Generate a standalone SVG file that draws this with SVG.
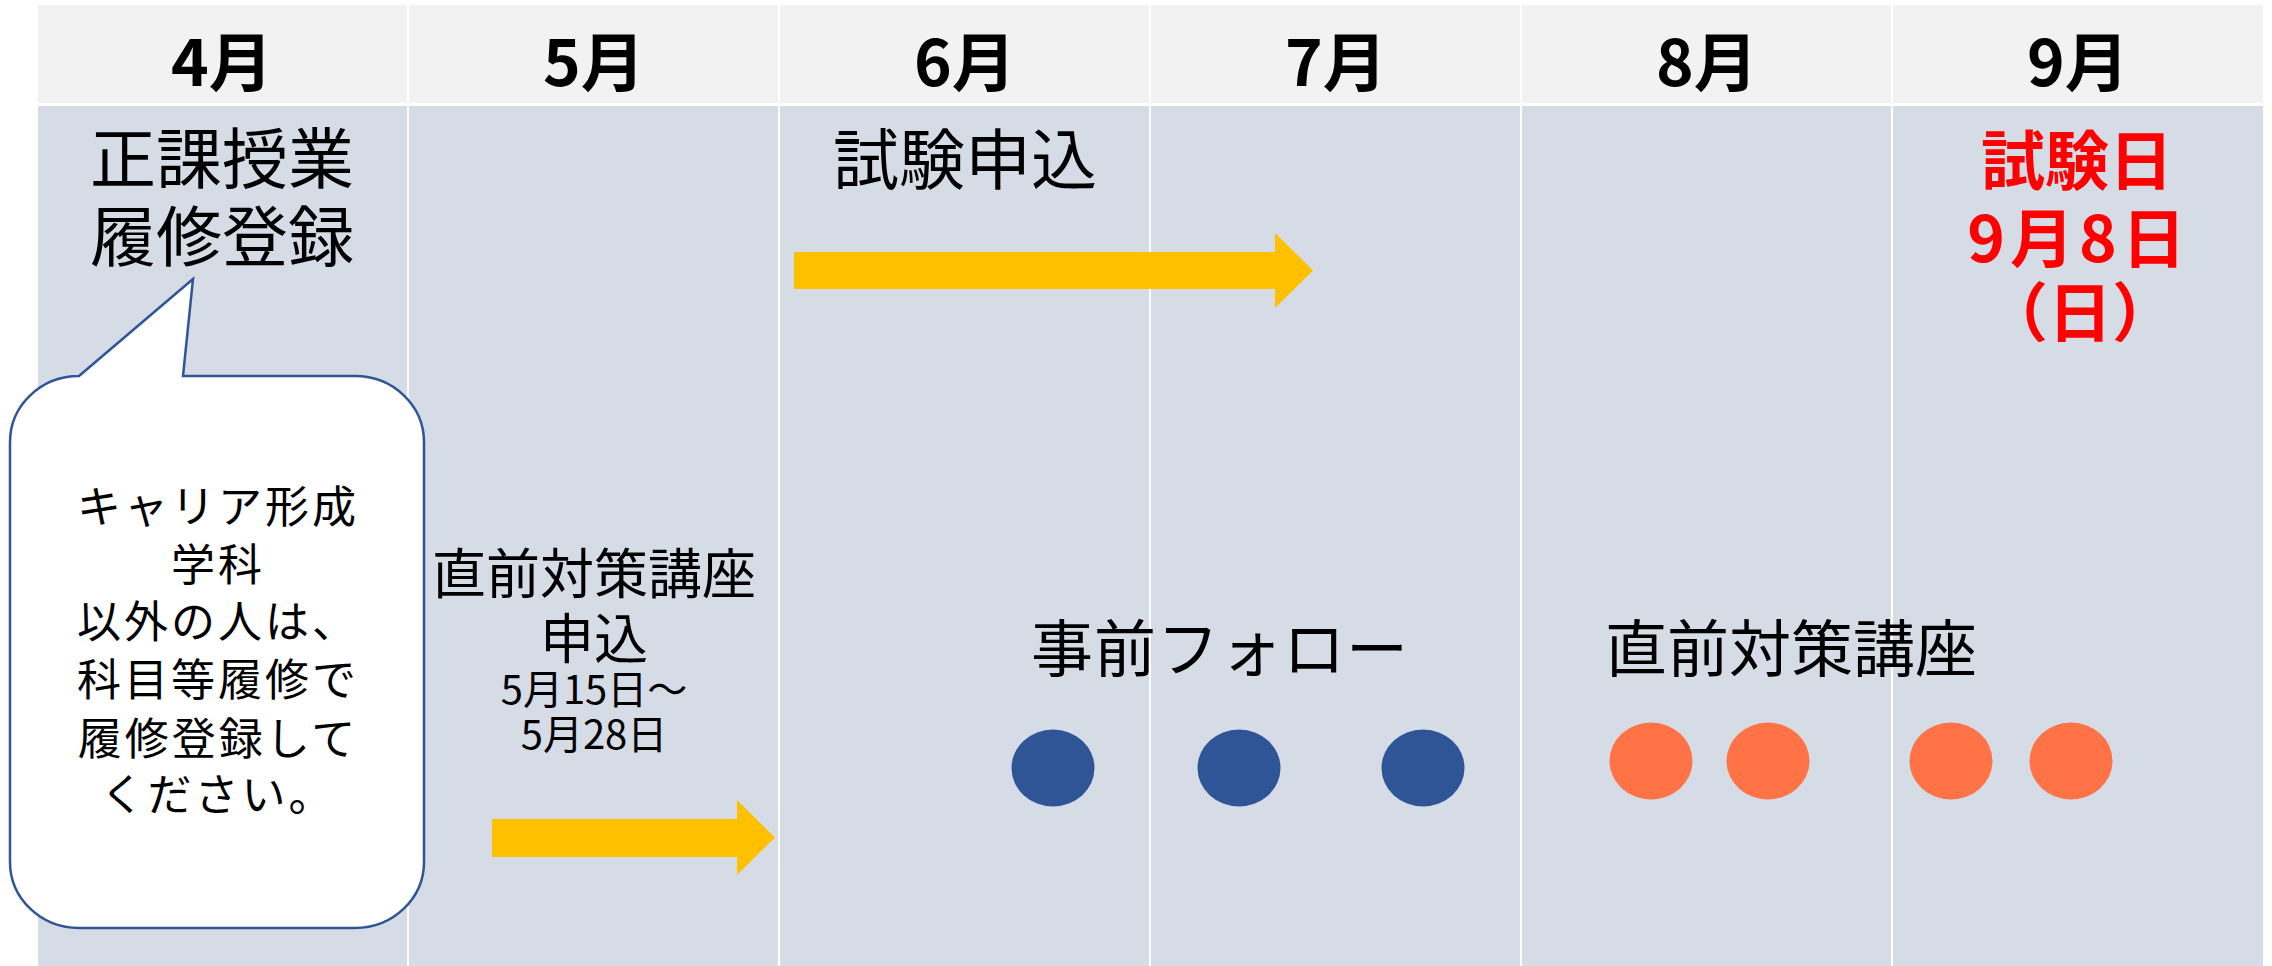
<svg xmlns="http://www.w3.org/2000/svg" width="2272" height="966" viewBox="0 0 2272 966">
<style>
.hd{fill:#F2F2F2}
.bd{fill:#D6DCE5}
.t{font-family:"Noto Sans CJK JP","Noto Sans",sans-serif;fill:#000}
.mon{font-size:64px;font-weight:bold;text-anchor:middle}
.big{font-size:66px;text-anchor:middle}
.red{font-size:64px;font-weight:bold;fill:#FF0000;text-anchor:middle}
.bub{font-size:44px;text-anchor:middle;letter-spacing:3px}
.mid{font-size:54px;text-anchor:middle}
.dt{font-size:40px;text-anchor:middle}
.lbl{font-size:62px}
.arr{fill:#FFC000}
.blue{fill:#2F5597}
.org{fill:#FF7347}
</style>
<defs>
<clipPath id="clipDay"><rect x="1894" y="200" width="369" height="142"/></clipPath>
</defs>
<rect x="0" y="0" width="2272" height="966" fill="#FFFFFF"/>
<g id="grid">
<rect class="hd" x="38" y="5" width="369" height="98"/>
<rect class="hd" x="409" y="5" width="369" height="98"/>
<rect class="hd" x="780" y="5" width="369" height="98"/>
<rect class="hd" x="1151" y="5" width="369" height="98"/>
<rect class="hd" x="1522" y="5" width="369" height="98"/>
<rect class="hd" x="1893" y="5" width="370" height="98"/>
<rect class="bd" x="38" y="106" width="369" height="860"/>
<rect class="bd" x="409" y="106" width="369" height="860"/>
<rect class="bd" x="780" y="106" width="369" height="860"/>
<rect class="bd" x="1151" y="106" width="369" height="860"/>
<rect class="bd" x="1522" y="106" width="369" height="860"/>
<rect class="bd" x="1893" y="106" width="370" height="860"/>
</g>
<g id="months" class="t">
<text class="t mon" x="222" y="86">4月</text>
<text class="t mon" x="594" y="86">5月</text>
<text class="t mon" x="965" y="86">6月</text>
<text class="t mon" x="1336" y="86">7月</text>
<text class="t mon" x="1707" y="86">8月</text>
<text class="t mon" x="2078" y="86">9月</text>
</g>
<g id="node-registration">
<text class="t big" x="222" y="183">正課授業</text>
<text class="t big" x="222" y="261">履修登録</text>
</g>
<g id="node-callout">
<path d="M79,376 L193,279 L183,376 L355,376 A69,66 0 0 1 424,442 L424,862 A69,66 0 0 1 355,928 L79,928 A69,66 0 0 1 10,862 L10,442 A69,66 0 0 1 79,376 Z" fill="#FFFFFF" stroke="#2F5597" stroke-width="2.5"/>
<text class="t bub" x="218" y="523">キャリア形成</text>
<text class="t bub" x="218" y="581">学科</text>
<text class="t bub" x="218" y="638">以外の人は、</text>
<text class="t bub" x="218" y="696">科目等履修で</text>
<text class="t bub" x="218" y="755">履修登録して</text>
<text class="t bub" x="218" y="811">ください。</text>
</g>
<g id="node-prep-apply">
<text class="t mid" x="594" y="594">直前対策講座</text>
<text class="t mid" x="594" y="659">申込</text>
<text class="t dt" x="594" y="704">5月15日～</text>
<text class="t dt" x="594" y="749">5月28日</text>
</g>
<g id="node-exam-apply">
<text class="t big" x="965" y="184">試験申込</text>
</g>
<g id="node-exam-day">
<text class="t red" x="2077" y="184">試験日</text>
<text class="t red" x="2079" y="262" letter-spacing="5">9月8日</text>
<text class="t red" x="2080" y="336" clip-path="url(#clipDay)">（日）</text>
</g>
<g id="node-pre-follow">
<text class="t lbl" x="1031" y="672" letter-spacing="1">事前フォロー</text>
<ellipse class="blue" cx="1053" cy="768" rx="41.5" ry="38.5"/>
<ellipse class="blue" cx="1239" cy="768" rx="41.5" ry="38.5"/>
<ellipse class="blue" cx="1423" cy="768" rx="41.5" ry="38.5"/>
</g>
<g id="node-prep-course">
<text class="t lbl" x="1605" y="672">直前対策講座</text>
<ellipse class="org" cx="1651" cy="761" rx="41.5" ry="38.5"/>
<ellipse class="org" cx="1768" cy="761" rx="41.5" ry="38.5"/>
<ellipse class="org" cx="1951" cy="761" rx="41.5" ry="38.5"/>
<ellipse class="org" cx="2071" cy="761" rx="41.5" ry="38.5"/>
</g>
<g id="connectors">
<path class="arr" d="M794,252 L1275,252 L1275,233 L1313,270.5 L1275,308 L1275,289 L794,289 Z"/>
<path class="arr" d="M492,819 L737,819 L737,800 L775,837.5 L737,875 L737,857 L492,857 Z"/>
</g>
</svg>
